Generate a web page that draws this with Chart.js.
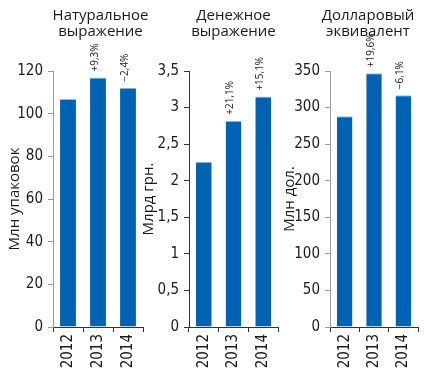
<!DOCTYPE html>
<html>
<head>
<meta charset="utf-8">
<script src="https://cdn.jsdelivr.net/npm/chart.js@4/dist/chart.umd.min.js"></script>
<style>
  html, body { margin: 0; padding: 0; background: #fff; }
  #wrap { position: relative; width: 425px; height: 372px; overflow: hidden; }
  canvas { position: absolute; top: 0; }
</style>
</head>
<body>
<div id="wrap">
  <canvas id="c1" width="160" height="372" style="left:0px"></canvas>
  <canvas id="c2" width="155" height="372" style="left:135px"></canvas>
  <canvas id="c3" width="150" height="372" style="left:275px"></canvas>
</div>
<script>
// ---- data ----
const categories = ['2012', '2013', '2014'];

const volumeValues = [106.9, 117.0, 112.2];
const volumeChanges = ['', '+9,3%', '−2,4%'];
const volumeTitle = ['Натуральное', 'выражение'];
const volumeAxisTitle = 'Млн упаковок';
const volumeMax = 120, volumeStep = 20;

const moneyValues = [2.26, 2.82, 3.15];
const moneyChanges = ['', '+21,1%', '+15,1%'];
const moneyTitle = ['Денежное', 'выражение'];
const moneyAxisTitle = 'Млрд грн.';
const moneyMax = 3.5, moneyStep = 0.5;

const dollarValues = [288, 347, 317];
const dollarChanges = ['', '+19,6%', '−6,1%'];
const dollarTitle = ['Долларовый', 'эквивалент'];
const dollarAxisTitle = 'Млн дол.';
const dollarMax = 350, dollarStep = 50;

// ---- styling ----
const BAR = '#0062b0';
const BAR_TOP = '#9bbbe6';
const TICK_FONT = { family: '"DejaVu Sans Condensed", "DejaVu Sans", sans-serif', size: 15 };
const TEXT_FAMILY = '"Open Sans", "Noto Sans", sans-serif';

const headerPlugin = {
  id: 'header',
  afterDraw(chart, args, opts) {
    const ctx = chart.ctx;
    const a = chart.chartArea;
    const cx = (a.left + a.right) / 2 + opts.dx;
    ctx.save();
    ctx.fillStyle = '#1a1a1a';
    ctx.font = '15px ' + TEXT_FAMILY;
    ctx.textAlign = 'center';
    ctx.textBaseline = 'alphabetic';
    opts.lines.forEach((l, i) => ctx.fillText(l, cx, 19.5 + i * 16.5));
    ctx.restore();
  }
};

const changePlugin = {
  id: 'changes',
  afterDatasetsDraw(chart, args, opts) {
    const ctx = chart.ctx;
    const meta = chart.getDatasetMeta(0);
    ctx.save();
    ctx.fillStyle = '#222';
    ctx.font = '10px ' + TEXT_FAMILY;
    ctx.textAlign = 'left';
    ctx.textBaseline = 'middle';
    meta.data.forEach((bar, i) => {
      const t = opts.labels[i];
      if (!t) return;
      ctx.save();
      ctx.translate(bar.x - 3, bar.y - 6);
      ctx.rotate(-Math.PI / 2);
      ctx.fillText(t, 0, 0);
      ctx.restore();
    });
    ctx.restore();
  }
};

function makeChart(id, values, changes, title, dx, axisTitle, max, step, padL, padR, yWidth, yColor, fmt) {
  return new Chart(document.getElementById(id), {
    type: 'bar',
    data: {
      labels: categories,
      datasets: [{
        data: values,
        backgroundColor: BAR,
        borderColor: BAR_TOP,
        borderWidth: { top: 1, left: 0, right: 0, bottom: 0 },
        borderSkipped: false,
        barPercentage: 0.53,
        categoryPercentage: 1
      }]
    },
    options: {
      responsive: false,
      animation: false,
      layout: { padding: { left: padL, right: padR, top: 71, bottom: 0 } },
      plugins: {
        legend: { display: false },
        tooltip: { enabled: false },
        header: { lines: title, dx: dx },
        changes: { labels: changes }
      },
      scales: {
        x: {
          offset: true,
          grid: { display: true, drawOnChartArea: false, drawTicks: true, tickLength: 5, color: '#333', offset: true },
          border: { display: true, color: '#333' },
          ticks: { autoSkip: false, minRotation: 90, maxRotation: 90, padding: 2, color: '#1a1a1a', font: TICK_FONT },
          afterFit(s) { s.height = 45; }
        },
        y: {
          min: 0,
          max: max,
          grid: { display: true, drawOnChartArea: false, drawTicks: true, tickLength: 5, color: yColor },
          border: { display: true, color: yColor },
          ticks: { stepSize: step, padding: 5, color: '#1a1a1a', font: TICK_FONT, callback: fmt },
          title: { display: true, text: axisTitle, color: '#1a1a1a', font: { family: TEXT_FAMILY, size: 15 }, padding: { top: 0, bottom: 0 } },
          afterFit(s) { s.width = yWidth; }
        }
      }
    },
    plugins: [headerPlugin, changePlugin]
  });
}

const intFmt = v => String(v);
const decFmt = v => String(v).replace('.', ',');

makeChart('c1', volumeValues, volumeChanges, volumeTitle, 2.5, volumeAxisTitle, volumeMax, volumeStep, 6, 17, 47, '#9a9a9a', intFmt);
makeChart('c2', moneyValues, moneyChanges, moneyTitle, 0, moneyAxisTitle, moneyMax, moneyStep, 5, 12, 49, '#333', decFmt);
makeChart('c3', dollarValues, dollarChanges, dollarTitle, -6, dollarAxisTitle, dollarMax, dollarStep, 6, 7, 49, '#9a9a9a', intFmt);
</script>
</body>
</html>
